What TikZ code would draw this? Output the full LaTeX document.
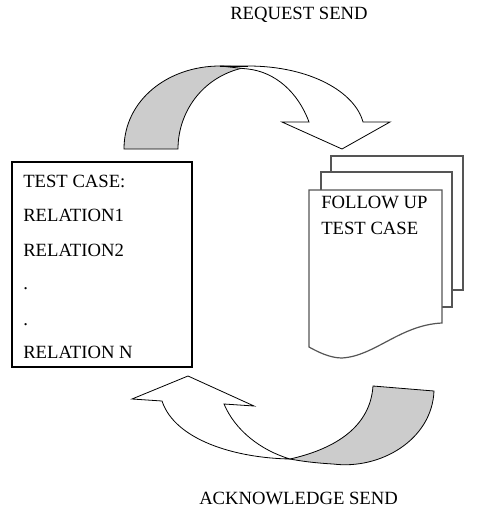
\documentclass[tikz,border=0pt]{standalone}
\usepackage{fontspec}
\setmainfont{Liberation Serif}
\definecolor{bandgray}{HTML}{CCCCCC}
\definecolor{pageline}{HTML}{555555}
\tikzset{
  band/.style={draw=black, line width=0.6pt, line join=miter},
  shade/.style={band, fill=bandgray},
  front/.style={band, fill=white},
  page/.style={draw=pageline, line width=0.9pt, fill=white},
  lbl/.style={anchor=base west, inner sep=0pt, font=\fontsize{14}{16}\selectfont},
  listbox/.style={draw=black, line width=0.8pt}
}
\begin{document}
\begin{tikzpicture}[x=0.75pt, y=-0.75pt]
\useasboundingbox (0,0) rectangle (479,515);

% labels
\node[lbl] (req) at (230,19) {REQUEST SEND};
\node[lbl] (ack) at (199,504) {ACKNOWLEDGE SEND};

% top curved arrow: shaded back part
\path[shade] (124,149) .. controls (124,100) and (168,66) .. (220,66)
  -- (248,67) .. controls (205,74) and (178,110) .. (178,149) -- cycle;
% top curved arrow: front part with head
\path[front] (220,66) -- (248,66) .. controls (310,66) and (355,92) .. (363,122)
  -- (390,122) -- (342,149) -- (282,122) -- (309,122)
  .. controls (298,92) and (275,72) .. (248,69) -- cycle;
\draw[band] (220,66) -- (248,66);

% bottom curved arrow: front part with head
\path[front] (290,459) .. controls (235,458) and (175,440) .. (162,401)
  -- (132,399) -- (188,376) -- (254,406) -- (224,404)
  .. controls (235,430) and (260,450) .. (290,459) -- cycle;
% bottom curved arrow: shaded part
\path[shade] (290,459) .. controls (330,450) and (370,430) .. (373,386)
  -- (434,391) .. controls (432,440) and (380,470) .. (333,464)
  .. controls (315,463) and (300,461) .. (290,459) -- cycle;

% document stack
\path[page] (331,156) rectangle (463,290);
\path[page] (321,172) rectangle (452,307);
\path[page] (309,190) -- (442,190) -- (442,323)
  .. controls (400,325) and (375,356) .. (342,358)
  .. controls (330,358) and (318,352) .. (309,347) -- cycle;
\node[lbl] (fu1) at (321,208) {FOLLOW UP};
\node[lbl] (fu2) at (321,234) {TEST CASE};

% list box
\draw[listbox] (12,162) rectangle (192,367);
\node[lbl] (l1) at (23,187) {TEST CASE:};
\node[lbl] (l2) at (23,221) {RELATION1};
\node[lbl] (l3) at (23,256) {RELATION2};
\node[lbl] (l4) at (23,289) {.};
\node[lbl] (l5) at (23,325) {.};
\node[lbl] (l6) at (23,358) {RELATION N};
\end{tikzpicture}
\end{document}
